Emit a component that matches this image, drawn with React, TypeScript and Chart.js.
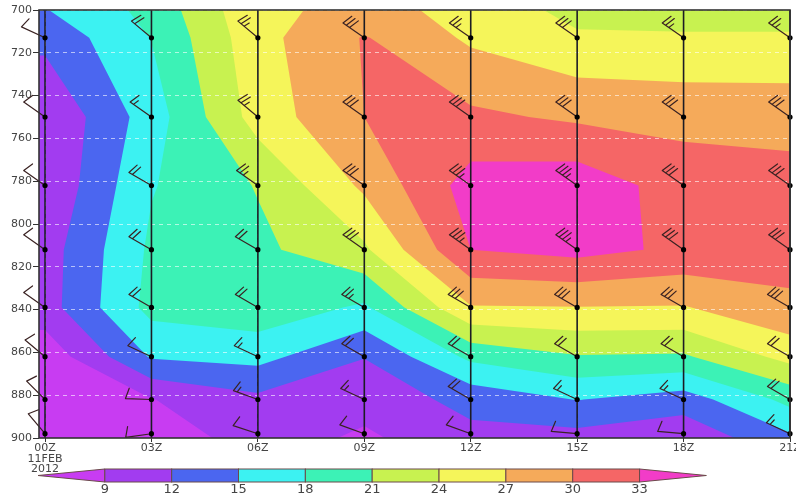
import { useEffect, useRef } from 'react';
import { Chart, registerables } from 'chart.js';

Chart.register(...registerables);

// ---------- data ----------
const times = [0, 3, 6, 9, 12, 15, 18, 21];
const timeLabels = ['00Z', '03Z', '06Z', '09Z', '12Z', '15Z', '18Z', '21Z'];
const dateLabel = ['11FEB', '2012'];
const yTicks = [700, 720, 740, 760, 780, 800, 820, 840, 860, 880, 900];

// field grid levels (hPa), values listed top -> bottom for each time
const gridLevels = [700, 713, 750, 782, 812, 839, 862, 882, 900];
const field00Z = [14.85, 12.8, 9.2, 9.3, 10.6, 10.7, 7.0, 6.0, 5.0];
const field03Z = [18.9, 18.1, 16.5, 17.8, 18.55, 19.0, 15.3, 8.9, 7.0];
const field06Z = [26.5, 26.0, 25.3, 21.2, 20.3, 20.0, 16.0, 11.3, 10.5];
const field09Z = [27.66, 30.2, 30.0, 27.6, 23.5, 17.5, 12.1, 10.1, 8.5];
const field12Z = [26.4, 26.5, 30.6, 34.3, 33.0, 26.8, 18.7, 13.0, 11.1];
const field15Z = [22.9, 24.5, 29.5, 34.9, 34.0, 26.9, 20.8, 15.1, 10.9];
const field18Z = [22.9, 24.3, 29.1, 31.6, 32.4, 26.8, 20.6, 13.5, 9.8];
const field21Z = [22.9, 24.3, 29.0, 31.0, 31.0, 29.5, 25.0, 18.9, 14.4];

const contourLevels = [9, 12, 15, 18, 21, 24, 27, 30, 33];
const bandColors = [
  '#c83cf2', '#a23cf0', '#4b66f0', '#3cf2f2', '#3cf2b6',
  '#c8f250', '#f5f55a', '#f5aa5a', '#f56666', '#f23cc8',
];

// wind barbs: levels (hPa), speed (kt) and direction (deg) top -> bottom
const barbLevels = [713, 750, 782, 812, 839, 862, 882, 898];
const wspd00Z = [10, 10, 10, 10, 10, 10, 10, 10];
const wdir00Z = [295, 305, 305, 305, 305, 310, 315, 320];
const wspd03Z = [20, 15, 20, 20, 20, 10, 10, 10];
const wdir03Z = [310, 305, 300, 300, 300, 295, 272, 262];
const wspd06Z = [25, 25, 25, 20, 20, 15, 15, 10];
const wdir06Z = [310, 310, 305, 300, 300, 295, 290, 288];
const wspd09Z = [30, 30, 30, 30, 25, 20, 15, 10];
const wdir09Z = [305, 305, 305, 305, 300, 300, 295, 290];
const wspd12Z = [25, 30, 35, 35, 30, 20, 20, 10];
const wdir12Z = [305, 305, 305, 305, 300, 300, 300, 290];
const wspd15Z = [30, 30, 35, 35, 30, 20, 15, 10];
const wdir15Z = [305, 305, 305, 305, 300, 300, 295, 275];
const wspd18Z = [25, 30, 30, 30, 30, 20, 15, 10];
const wdir18Z = [305, 305, 305, 305, 300, 300, 295, 275];
const wspd21Z = [25, 30, 30, 30, 30, 20, 20, 15];
const wdir21Z = [305, 305, 305, 305, 300, 300, 300, 295];

const fieldColumns = [field00Z, field03Z, field06Z, field09Z, field12Z, field15Z, field18Z, field21Z];
const speedColumns = [wspd00Z, wspd03Z, wspd06Z, wspd09Z, wspd12Z, wspd15Z, wspd18Z, wspd21Z];
const dirColumns = [wdir00Z, wdir03Z, wdir06Z, wdir09Z, wdir12Z, wdir15Z, wdir18Z, wdir21Z];

// ---------- plugins ----------
const contourPlugin = {
  id: 'filledContours',
  beforeDraw(chart: any) {
    const { ctx, chartArea, scales } = chart;
    const xs = scales.x;
    const ys = scales.y;
    const cols: number[] = [];
    const vals: number[][] = [];
    if (xs.min < times[0]) {
      cols.push(xs.min);
      vals.push(fieldColumns[0]);
    }
    times.forEach((t, i) => {
      cols.push(t);
      vals.push(fieldColumns[i]);
    });
    const px = cols.map((c) => xs.getPixelForValue(c));
    const py = gridLevels.map((l) => ys.getPixelForValue(l));
    ctx.save();
    ctx.beginPath();
    ctx.rect(chartArea.left, chartArea.top, chartArea.width, chartArea.height);
    ctx.clip();
    ctx.fillStyle = bandColors[0];
    ctx.fillRect(chartArea.left, chartArea.top, chartArea.width, chartArea.height);
    contourLevels.forEach((T, k) => {
      ctx.beginPath();
      for (let i = 0; i < cols.length - 1; i++) {
        for (let j = 0; j < gridLevels.length - 1; j++) {
          const corners = [
            [i, j],
            [i + 1, j],
            [i + 1, j + 1],
            [i, j + 1],
          ];
          const pts: number[][] = [];
          for (let c = 0; c < 4; c++) {
            const a = corners[c];
            const b = corners[(c + 1) % 4];
            const va = vals[a[0]][a[1]];
            const vb = vals[b[0]][b[1]];
            if (va >= T) pts.push([px[a[0]], py[a[1]]]);
            if (va >= T !== vb >= T) {
              const f = (T - va) / (vb - va);
              pts.push([
                px[a[0]] + f * (px[b[0]] - px[a[0]]),
                py[a[1]] + f * (py[b[1]] - py[a[1]]),
              ]);
            }
          }
          if (pts.length >= 3) {
            ctx.moveTo(pts[0][0], pts[0][1]);
            for (let p = 1; p < pts.length; p++) ctx.lineTo(pts[p][0], pts[p][1]);
            ctx.closePath();
          }
        }
      }
      ctx.fillStyle = bandColors[k + 1];
      ctx.fill();
    });
    ctx.restore();
  },
};

function drawBarb(ctx: CanvasRenderingContext2D, x0: number, y0: number, spd: number, dir: number) {
  const r = (dir * Math.PI) / 180;
  const ux = Math.sin(r);
  const uy = -Math.cos(r);
  const L = 26;
  const tx = x0 + ux * L;
  const ty = y0 + uy * L;
  const lean = (18 * Math.PI) / 180;
  const bx = -uy * Math.cos(lean) - ux * Math.sin(lean);
  const by = ux * Math.cos(lean) - uy * Math.sin(lean);
  ctx.beginPath();
  ctx.moveTo(x0, y0);
  ctx.lineTo(tx, ty);
  let rest = Math.round(spd / 5) * 5;
  let pos = 0;
  const step = 4;
  const full = 11;
  while (rest >= 50) {
    const ax = tx - ux * pos;
    const ay = ty - uy * pos;
    ctx.moveTo(ax, ay);
    ctx.lineTo(ax + bx * full, ay + by * full);
    ctx.lineTo(ax - ux * 6, ay - uy * 6);
    pos += 8;
    rest -= 50;
  }
  while (rest >= 10) {
    const ax = tx - ux * pos;
    const ay = ty - uy * pos;
    ctx.moveTo(ax, ay);
    ctx.lineTo(ax + bx * full, ay + by * full);
    pos += step;
    rest -= 10;
  }
  if (rest >= 5) {
    if (pos === 0) pos = step;
    const ax = tx - ux * pos;
    const ay = ty - uy * pos;
    ctx.moveTo(ax, ay);
    ctx.lineTo(ax + bx * full * 0.55, ay + by * full * 0.55);
  }
  ctx.stroke();
}

const overlayPlugin = {
  id: 'soundingOverlay',
  beforeDatasetsDraw(chart: any) {
    const { ctx, chartArea, scales } = chart;
    const xs = scales.x;
    const ys = scales.y;
    ctx.save();
    // sounding staff lines
    ctx.strokeStyle = '#1c1c24';
    ctx.lineWidth = 1.6;
    times.forEach((t) => {
      const x = xs.getPixelForValue(t);
      ctx.beginPath();
      ctx.moveTo(x, chartArea.top);
      ctx.lineTo(x, chartArea.bottom);
      ctx.stroke();
    });
    // barbs
    ctx.strokeStyle = '#3a2222';
    ctx.lineWidth = 1.2;
    ctx.lineCap = 'round';
    times.forEach((t, i) => {
      barbLevels.forEach((lev, j) => {
        drawBarb(ctx, xs.getPixelForValue(t), ys.getPixelForValue(lev), speedColumns[i][j], dirColumns[i][j]);
      });
    });
    ctx.restore();
  },
  afterDraw(chart: any) {
    const { ctx, chartArea } = chart;
    ctx.save();
    // frame
    ctx.strokeStyle = '#333';
    ctx.lineWidth = 1.6;
    ctx.strokeRect(chartArea.left, chartArea.top, chartArea.width, chartArea.height);
    // colour bar
    const segW = chartArea.width * 0.089;
    const x0 = chartArea.left - 1;
    const top = chartArea.bottom + 31;
    const h = 13;
    ctx.lineWidth = 1;
    ctx.strokeStyle = '#6b4a4a';
    ctx.beginPath();
    ctx.moveTo(x0, top + h / 2);
    ctx.lineTo(x0 + segW, top);
    ctx.lineTo(x0 + segW, top + h);
    ctx.closePath();
    ctx.fillStyle = bandColors[0];
    ctx.fill();
    ctx.stroke();
    for (let k = 1; k <= contourLevels.length - 1; k++) {
      ctx.fillStyle = bandColors[k];
      ctx.fillRect(x0 + k * segW, top, segW, h);
      ctx.strokeRect(x0 + k * segW, top, segW, h);
    }
    const last = contourLevels.length;
    ctx.beginPath();
    ctx.moveTo(x0 + last * segW, top);
    ctx.lineTo(x0 + (last + 1) * segW, top + h / 2);
    ctx.lineTo(x0 + last * segW, top + h);
    ctx.closePath();
    ctx.fillStyle = bandColors[last];
    ctx.fill();
    ctx.stroke();
    ctx.fillStyle = '#444';
    ctx.font = '13px "DejaVu Sans"';
    ctx.textAlign = 'center';
    ctx.textBaseline = 'middle';
    contourLevels.forEach((lv, k) => {
      ctx.fillText(String(lv), x0 + (k + 1) * segW, top + h + 8);
    });
    ctx.restore();
  },
};

// ---------- component ----------
export default function App() {
  const ref = useRef<HTMLCanvasElement>(null);
  useEffect(() => {
    document.body.style.margin = '0';
    const points: { x: number; y: number }[] = [];
    times.forEach((t) => barbLevels.forEach((l) => points.push({ x: t, y: l })));
    const chart = new Chart(ref.current as HTMLCanvasElement, {
      type: 'scatter',
      data: {
        datasets: [
          {
            data: points,
            pointRadius: 2.6,
            pointHoverRadius: 2.6,
            backgroundColor: '#000',
            borderColor: '#000',
            borderWidth: 0,
            clip: 6,
          } as any,
        ],
      },
      options: {
        animation: false,
        responsive: false,
        events: [],
        layout: { padding: { top: 10, right: 6, left: 0, bottom: 0 } },
        plugins: { legend: { display: false }, tooltip: { enabled: false } },
        scales: {
          x: {
            type: 'linear',
            min: -0.17,
            max: 21,
            afterBuildTicks: (scale: any) => {
              scale.ticks = times.map((v) => ({ value: v }));
            },
            afterFit: (scale: any) => {
              scale.height = 59;
              scale.paddingLeft = 0;
              scale.paddingRight = 0;
            },
            ticks: {
              autoSkip: false,
              maxRotation: 0,
              padding: 1,
              color: '#444',
              font: { family: 'DejaVu Sans', size: 11, lineHeight: 0.95 },
              callback: (v: any) => {
                const i = times.indexOf(Number(v));
                if (i === 0) return [timeLabels[0], ...dateLabel];
                return i >= 0 ? timeLabels[i] : '';
              },
            },
            grid: {
              color: 'rgba(255,255,255,0.6)',
              lineWidth: 1,
              tickColor: '#333',
              tickLength: 4,
            },
            border: { display: false, dash: [4, 4] },
          },
          y: {
            type: 'linear',
            reverse: true,
            min: 700,
            max: 900,
            afterBuildTicks: (scale: any) => {
              scale.ticks = yTicks.map((v) => ({ value: v }));
            },
            afterFit: (scale: any) => {
              scale.width = 39;
              scale.paddingTop = 0;
              scale.paddingBottom = 0;
            },
            ticks: {
              padding: 1,
              color: '#444',
              font: { family: 'DejaVu Sans', size: 11 },
            },
            grid: {
              color: 'rgba(255,255,255,0.6)',
              lineWidth: 1,
              tickColor: '#333',
              tickLength: 6,
            },
            border: { display: false, dash: [4, 4] },
          },
        },
      },
      plugins: [contourPlugin, overlayPlugin],
    });
    return () => chart.destroy();
  }, []);
  return (
    <div style={{ width: 796, height: 497 }}>
      <canvas ref={ref} width={796} height={497} style={{ width: 796, height: 497, display: 'block' }} />
    </div>
  );
}
